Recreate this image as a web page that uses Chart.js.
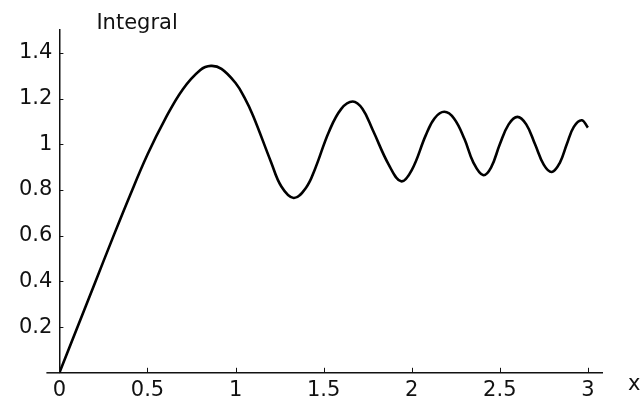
<!DOCTYPE html>
<html>
<head>
<meta charset="utf-8">
<script src="https://cdn.jsdelivr.net/npm/chart.js@4/dist/chart.umd.min.js"></script>
<style>
  html, body { margin: 0; padding: 0; background: #fff; }
  #wrap { width: 642px; height: 403px; }
</style>
</head>
<body>
<div id="wrap"><canvas id="c" width="642" height="403"></canvas></div>
<script>
// x positions of read samples
const xValues = [0, 0.1, 0.2, 0.3, 0.4, 0.5, 0.6, 0.7, 0.8, 0.86, 0.92, 1.0, 1.05, 1.1, 1.2, 1.26, 1.33, 1.4, 1.45, 1.53, 1.6, 1.665, 1.72, 1.78, 1.87, 1.94, 2.0, 2.08, 2.13, 2.185, 2.24, 2.3, 2.35, 2.405, 2.45, 2.5, 2.55, 2.6, 2.65, 2.7, 2.75, 2.795, 2.84, 2.88, 2.92, 2.965, 3.0];
// "Integral" values
const integralValues = [0, 0.195, 0.39, 0.585, 0.775, 0.955, 1.11, 1.24, 1.325, 1.343, 1.33, 1.268, 1.205, 1.124, 0.925, 0.815, 0.765, 0.81, 0.89, 1.055, 1.155, 1.187, 1.155, 1.06, 0.91, 0.838, 0.887, 1.04, 1.114, 1.142, 1.113, 1.022, 0.92, 0.865, 0.898, 1.0, 1.087, 1.12, 1.087, 1.0, 0.91, 0.879, 0.918, 1.0, 1.076, 1.105, 1.073];
const xTickLabels = [0, 0.5, 1, 1.5, 2, 2.5, 3];
const yTickLabels = [0.2, 0.4, 0.6, 0.8, 1, 1.2, 1.4];
const yAxisTitle = "Integral";
const xAxisTitle = "x";

const FONT = "'DejaVu Sans', 'Liberation Sans', Arial, sans-serif";
const FSIZE = 21;

const decorPlugin = {
  id: 'decor',
  afterDraw(chart) {
    const ctx = chart.ctx;
    const xs = chart.scales.x, ys = chart.scales.y;
    const x0 = xs.getPixelForValue(0), y0 = ys.getPixelForValue(0);
    ctx.save();
    // x axis line overhang to the left of the y axis
    ctx.strokeStyle = '#111';
    ctx.lineWidth = 1.5;
    ctx.beginPath();
    ctx.moveTo(x0 - 13, y0);
    ctx.lineTo(x0, y0);
    ctx.stroke();
    // inward tick marks
    ctx.lineWidth = 1;
    ctx.beginPath();
    xTickLabels.forEach(v => {
      const px = Math.round(xs.getPixelForValue(v)) + 0.5;
      ctx.moveTo(px, y0);
      ctx.lineTo(px, y0 - 5);
    });
    yTickLabels.forEach(v => {
      const py = Math.round(ys.getPixelForValue(v)) + 0.5;
      ctx.moveTo(x0, py);
      ctx.lineTo(x0 + 4, py);
    });
    ctx.stroke();
    // axis labels
    ctx.fillStyle = '#111';
    ctx.font = FSIZE + 'px ' + FONT;
    ctx.textBaseline = 'alphabetic';
    ctx.textAlign = 'left';
    ctx.fillText(yAxisTitle, x0 + 37, chart.chartArea.top - 1);
    ctx.fillText(xAxisTitle, chart.chartArea.right + 26, y0 + 17);
    ctx.restore();
  }
};

new Chart(document.getElementById('c'), {
  type: 'line',
  data: {
    datasets: [{
      data: xValues.map((x, i) => ({ x: x, y: integralValues[i] })),
      borderColor: '#000',
      borderWidth: 2.6,
      pointRadius: 0,
      fill: false,
      tension: 0.4
    }]
  },
  options: {
    responsive: false,
    animation: false,
    layout: { padding: { left: 12, right: 40, top: 30, bottom: -5 } },
    plugins: { legend: { display: false }, tooltip: { enabled: false } },
    scales: {
      x: {
        type: 'linear',
        position: 'bottom',
        min: 0,
        max: 3.08,
        afterBuildTicks: (s) => { s.ticks = xTickLabels.map(v => ({ value: v })); },
        grid: { drawOnChartArea: false, drawTicks: false },
        border: { display: true, color: '#111', width: 1.5 },
        ticks: { color: '#111', font: { family: FONT, size: FSIZE }, padding: 5, maxRotation: 0, autoSkip: false,
                 callback: (v) => String(v) }
      },
      y: {
        type: 'linear',
        position: 'left',
        min: 0,
        max: 1.5,
        afterBuildTicks: (s) => { s.ticks = yTickLabels.map(v => ({ value: v })); },
        grid: { drawOnChartArea: false, drawTicks: false },
        border: { display: true, color: '#111', width: 1.5 },
        ticks: { color: '#111', font: { family: FONT, size: FSIZE }, padding: 7, autoSkip: false,
                 callback: (v) => String(v) }
      }
    }
  },
  plugins: [decorPlugin]
});
</script>
</body>
</html>
